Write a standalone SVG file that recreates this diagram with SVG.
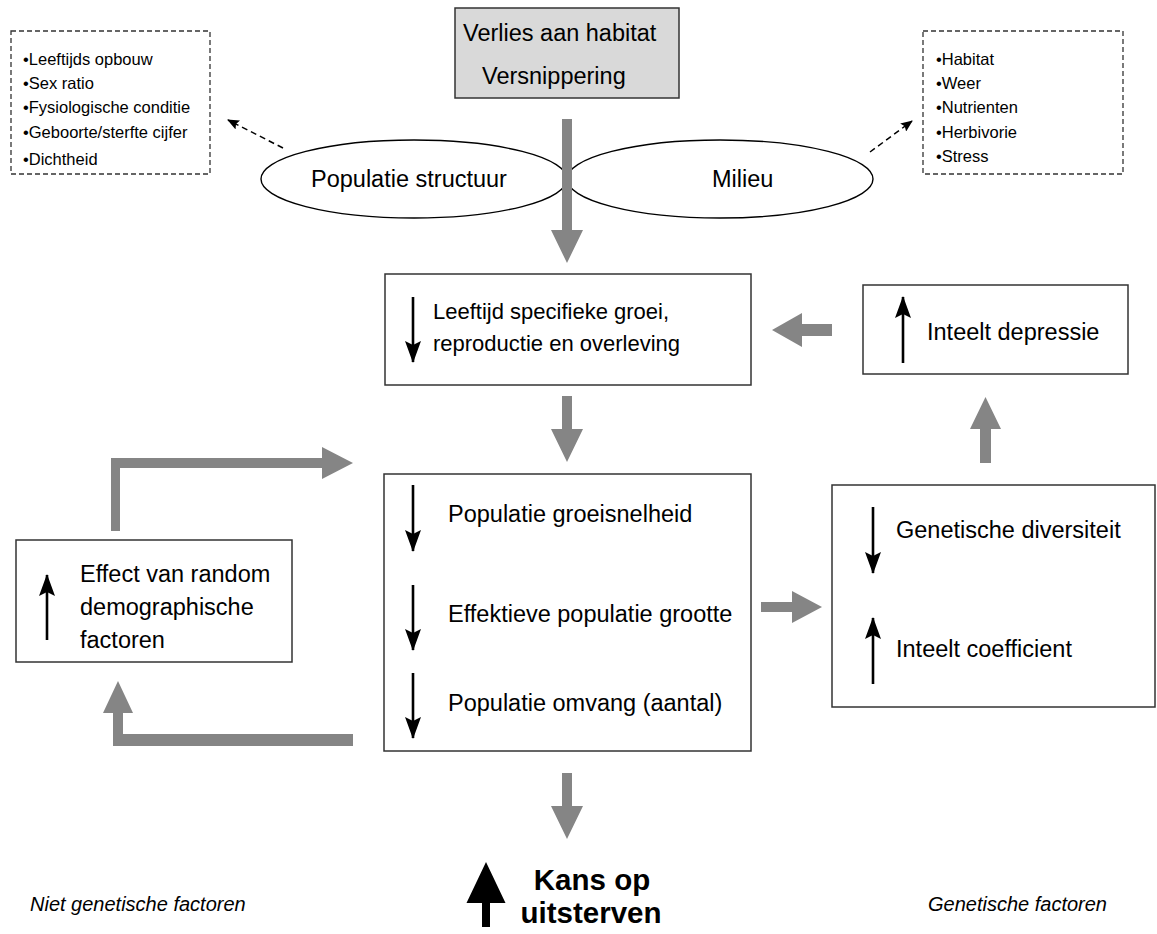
<svg xmlns="http://www.w3.org/2000/svg" width="1157" height="934" viewBox="0 0 1157 934">
<defs>
<style>
text{font-family:"Liberation Sans",Arial,sans-serif;fill:#000}
.t{font-size:23.5px}
.t1{font-size:22px}
.s{font-size:16.5px}
.it{font-size:20px;font-style:italic}
.b{font-size:29.5px;font-weight:bold}
.box{fill:#fff;stroke:#333;stroke-width:1.5}
.dbox{fill:none;stroke:#333;stroke-width:1.3;stroke-dasharray:5,3}
.ell{fill:none;stroke:#000;stroke-width:1.4}
.g{fill:#858585}
.ba{stroke:#000;stroke-width:2.6;fill:none;marker-end:url(#bh)}
.da{stroke:#000;stroke-width:1.5;fill:none;stroke-dasharray:6,4;marker-end:url(#dh)}
</style>
<marker id="bh" viewBox="0 0 22 16" refX="21" refY="8" markerWidth="22" markerHeight="16" markerUnits="userSpaceOnUse" orient="auto">
<path d="M0,0 L22,8 L0,16 L4,8 Z" fill="#000"/>
</marker>
<marker id="dh" viewBox="0 0 12 10" refX="11" refY="5" markerWidth="12" markerHeight="10" markerUnits="userSpaceOnUse" orient="auto">
<path d="M0,0 L12,5 L0,10 L2,5 Z" fill="#000"/>
</marker>
</defs>
<rect width="1157" height="934" fill="#fff"/>

<g id="n-habitat">
<rect x="455" y="8" width="224" height="90" fill="#d9d9d9" stroke="#333" stroke-width="1.5"/>
<text class="t" x="463" y="41">Verlies aan habitat</text>
<text class="t" x="482" y="84">Versnippering</text>
</g>

<g id="n-popstructuur">
<ellipse class="ell" cx="414" cy="179" rx="153" ry="39"/>
<text class="t" x="311" y="187">Populatie structuur</text>
</g>

<g id="n-milieu">
<ellipse class="ell" cx="720" cy="179" rx="153" ry="39"/>
<text class="t" x="712" y="187">Milieu</text>
</g>

<g id="n-popfactors">
<rect class="dbox" x="11" y="31" width="199" height="143"/>
<text class="s" x="23" y="65">•Leeftijds opbouw</text>
<text class="s" x="23" y="89">•Sex ratio</text>
<text class="s" x="23" y="113">•Fysiologische conditie</text>
<text class="s" x="23" y="138">•Geboorte/sterfte cijfer</text>
<text class="s" x="23" y="165">•Dichtheid</text>
</g>

<g id="n-milieufactors">
<rect class="dbox" x="923" y="31" width="200" height="143"/>
<text class="s" x="936" y="65">•Habitat</text>
<text class="s" x="936" y="89">•Weer</text>
<text class="s" x="936" y="113">•Nutrienten</text>
<text class="s" x="936" y="138">•Herbivorie</text>
<text class="s" x="936" y="162">•Stress</text>
</g>

<g id="n-leeftijd">
<rect class="box" x="385" y="274" width="366" height="111"/>
<line class="ba" x1="413" y1="297" x2="413" y2="362"/>
<text class="t1" x="433" y="319">Leeftijd specifieke groei,</text>
<text class="t1" x="433" y="351">reproductie en overleving</text>
</g>

<g id="n-depressie">
<rect class="box" x="863" y="285" width="265" height="89"/>
<line class="ba" x1="903" y1="363" x2="903" y2="297"/>
<text class="t" x="927" y="340">Inteelt depressie</text>
</g>

<g id="n-populatie">
<rect class="box" x="384" y="474" width="367" height="277"/>
<line class="ba" x1="413" y1="485" x2="413" y2="551"/>
<line class="ba" x1="413" y1="585" x2="413" y2="650"/>
<line class="ba" x1="413" y1="673" x2="413" y2="738"/>
<text class="t" x="448" y="522">Populatie groeisnelheid</text>
<text class="t" x="448" y="622">Effektieve populatie grootte</text>
<text class="t" x="448" y="711">Populatie omvang (aantal)</text>
</g>

<g id="n-genetisch">
<rect class="box" x="832" y="485" width="323" height="222"/>
<line class="ba" x1="873" y1="507" x2="873" y2="573"/>
<line class="ba" x1="873" y1="684" x2="873" y2="618"/>
<text class="t" x="896" y="538">Genetische diversiteit</text>
<text class="t" x="896" y="657">Inteelt coefficient</text>
</g>

<g id="n-random">
<rect class="box" x="16" y="540" width="276" height="122"/>
<line class="ba" x1="47" y1="640" x2="47" y2="575"/>
<text class="t" x="80" y="582">Effect van random</text>
<text class="t" x="80" y="615">demographische</text>
<text class="t" x="80" y="648">factoren</text>
</g>

<g id="n-kans">
<polygon points="482,927 490,927 490,903 505.5,903 486,862 466.5,903 482,903" fill="#000"/>
<text class="b" x="592" y="890" text-anchor="middle">Kans op</text>
<text class="b" x="591" y="923" text-anchor="middle">uitsterven</text>
</g>

<g id="n-labels">
<text class="it" x="30" y="911">Niet genetische factoren</text>
<text class="it" x="928" y="911">Genetische factoren</text>
</g>

<g id="connectors">
<line class="da" x1="283" y1="148" x2="228" y2="120"/>
<line class="da" x1="870" y1="152" x2="912" y2="121"/>
<polygon class="g" points="562,119 572,119 572,230 583,230 567,263 551,230 562,230"/>
<polygon class="g" points="562,396 572,396 572,429 583,429 567,462 551,429 562,429"/>
<polygon class="g" points="562,773 572,773 572,806 583,806 567,839 551,806 562,806"/>
<polygon class="g" points="761,602 792,602 792,591 822,607 792,623 792,612 761,612"/>
<polygon class="g" points="980,463 991,463 991,429 1001,429 985.5,397 970,429 980,429"/>
<polygon class="g" points="832,324 802,324 802,313 772,330 802,347 802,336 832,336"/>
<polygon class="g" points="353,734 123,734 123,713 133,713 118,681 103,713 113,713 113,746 353,746"/>
<polygon class="g" points="111,531 120,531 120,468 322,468 322,479 353,463 322,447 322,458 111,458"/>
</g>
</svg>
